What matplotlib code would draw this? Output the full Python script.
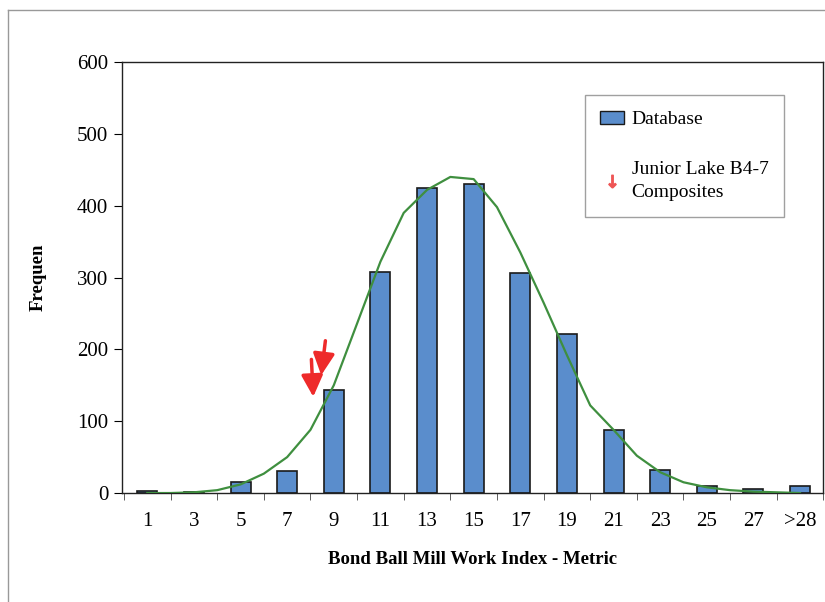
import numpy as np
import matplotlib
matplotlib.use("Agg")
import matplotlib.pyplot as plt
from matplotlib.lines import Line2D
from matplotlib.patches import Patch

plt.rcParams['font.family'] = ['Liberation Serif', 'DejaVu Serif']

# Data
categories = ["1", "3", "5", "7", "9", "11", "13", "15", "17", "19", "21", "23", "25", "27", ">28"]
frequency = [3, 1, 15, 30, 143, 307, 425, 430, 306, 221, 88, 32, 10, 6, 10]

# fitted curve, read at half-category steps
curve_pos = [0, 0.5, 1, 1.5, 2, 2.5, 3, 3.5, 4, 4.5, 5, 5.5, 6, 6.5, 7, 7.5,
             8, 8.5, 9, 9.5, 10, 10.5, 11, 11.5, 12, 12.5, 13, 13.5, 14]
curve_val = [0, 0, 1, 4, 12, 27, 50, 88, 150, 236, 322, 390, 422, 440, 437, 398,
             335, 265, 192, 122, 88, 52, 29, 15, 8, 4, 2, 1, 0]

# Junior Lake B4-7 composites: arrow tips and tails (category position, frequency)
arrow_tips = [(3.56, 134), (3.73, 164)]
arrow_tails = [(3.52, 186), (3.82, 212)]

fig = plt.figure(figsize=(8.25, 6.02), dpi=100)
ax = fig.add_axes([0.148, 0.181, 0.85, 0.716])

x = np.arange(len(categories))
ax.bar(x, frequency, width=0.43, color="#5a8dcc", edgecolor="#1a1a1a", linewidth=1.2, zorder=2)
ax.plot(curve_pos, curve_val, color="#3f8f3f", linewidth=1.6, zorder=3)

for tip, tail in zip(arrow_tips, arrow_tails):
    ax.annotate("", xy=tip, xytext=tail,
                arrowprops=dict(arrowstyle="-|>,head_width=0.5,head_length=1.0",
                                color="#ee2a2a", lw=2.5, mutation_scale=13,
                                shrinkA=0, shrinkB=0), zorder=4)

ax.set_xlim(-0.54, 14.5)
ax.set_ylim(0, 600)
ax.set_yticks(range(0, 601, 100))
ax.set_xticks(x)
ax.set_xticklabels(categories, fontsize=15)
ax.set_xticks(np.arange(-0.5, 14.6, 1), minor=True)
ax.tick_params(axis="x", which="major", length=0, pad=14)
ax.tick_params(axis="x", which="minor", length=5, direction="out", color="#444444")
ax.tick_params(axis="y", labelsize=15, length=6, direction="out", pad=4)
for s in ax.spines.values():
    s.set_color("#222222")
    s.set_linewidth(1.0)

ax.set_xlabel("Bond Ball Mill Work Index - Metric", fontsize=13.5, fontweight="bold", labelpad=14)
ax.set_ylabel("Frequen", fontsize=13.5, fontweight="bold", labelpad=22)

handles = [Patch(facecolor="#5a8dcc", edgecolor="#1a1a1a"),
           Line2D([], [], marker=r"$\downarrow$", color="#ee5555", linestyle="none", markersize=9)]
leg = fig.legend(handles, ["Database", "Junior Lake B4-7\nComposites"],
                 loc="upper left", bbox_to_anchor=(0.709, 0.842), fontsize=14,
                 frameon=True, fancybox=False, labelspacing=1.7, handlelength=1.2,
                 handletextpad=0.4, borderpad=0.8, borderaxespad=0)
for t in leg.get_texts():
    t.set_linespacing(1.45)
leg.get_frame().set_edgecolor("#888888")
leg.get_frame().set_linewidth(1.0)

# outer frame of the scanned figure
fig.add_artist(Line2D([8 / 825, 8 / 825], [0, 1 - 10 / 602], color="#999999", lw=1.0))
fig.add_artist(Line2D([8 / 825, 1], [1 - 10 / 602, 1 - 10 / 602], color="#999999", lw=1.0))

fig.savefig("out.png", dpi=100)
